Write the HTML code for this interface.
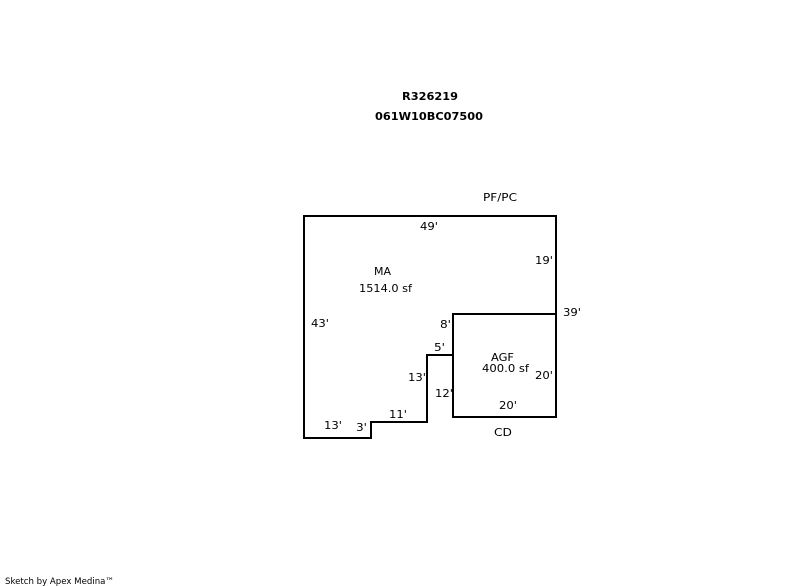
<!DOCTYPE html>
<html>
<head>
<meta charset="utf-8">
<style>
html,body{margin:0;padding:0;background:#fff;width:800px;height:587px;overflow:hidden}
svg{display:block}
text{font-family:"DejaVu Sans",sans-serif;font-size:11px;fill:#000}
.b{font-weight:bold;font-size:11px}
.s{font-size:9px}
</style>
</head>
<body>
<svg width="800" height="587" viewBox="0 0 800 587" xmlns="http://www.w3.org/2000/svg">
<g fill="none" stroke="#000" stroke-width="2" shape-rendering="crispEdges">
<path d="M303 216H557"/>
<path d="M556 215V418"/>
<path d="M452 417H557"/>
<path d="M453 313V418"/>
<path d="M453 314H556"/>
<path d="M304 215V439"/>
<path d="M303 438H372"/>
<path d="M371 421V439"/>
<path d="M370 422H428"/>
<path d="M427 354V423"/>
<path d="M426 355H453"/>
</g>
<text class="b" x="402" y="100" textLength="56" lengthAdjust="spacingAndGlyphs">R326219</text>
<text class="b" x="375" y="120" textLength="108" lengthAdjust="spacingAndGlyphs">061W10BC07500</text>
<text x="483" y="201" textLength="34" lengthAdjust="spacingAndGlyphs">PF/PC</text>
<text x="420" y="230" textLength="18" lengthAdjust="spacingAndGlyphs">49'</text>
<text x="535" y="264" textLength="18" lengthAdjust="spacingAndGlyphs">19'</text>
<text x="374" y="275" textLength="17" lengthAdjust="spacingAndGlyphs">MA</text>
<text x="359" y="292" textLength="53" lengthAdjust="spacingAndGlyphs">1514.0 sf</text>
<text x="563" y="316" textLength="18" lengthAdjust="spacingAndGlyphs">39'</text>
<text x="311" y="327" textLength="18" lengthAdjust="spacingAndGlyphs">43'</text>
<text x="440" y="328" textLength="11" lengthAdjust="spacingAndGlyphs">8'</text>
<text x="434" y="351" textLength="11" lengthAdjust="spacingAndGlyphs">5'</text>
<text x="491" y="361" textLength="23" lengthAdjust="spacingAndGlyphs">AGF</text>
<text x="482" y="372" textLength="47" lengthAdjust="spacingAndGlyphs">400.0 sf</text>
<text x="535" y="379" textLength="18" lengthAdjust="spacingAndGlyphs">20'</text>
<text x="408" y="381" textLength="18" lengthAdjust="spacingAndGlyphs">13'</text>
<text x="435" y="397" textLength="18" lengthAdjust="spacingAndGlyphs">12'</text>
<text x="499" y="409" textLength="18" lengthAdjust="spacingAndGlyphs">20'</text>
<text x="389" y="418" textLength="18" lengthAdjust="spacingAndGlyphs">11'</text>
<text x="324" y="429" textLength="18" lengthAdjust="spacingAndGlyphs">13'</text>
<text x="356" y="431" textLength="11" lengthAdjust="spacingAndGlyphs">3'</text>
<text x="494" y="436" textLength="18" lengthAdjust="spacingAndGlyphs">CD</text>
<text class="s" x="5" y="584" textLength="109" lengthAdjust="spacingAndGlyphs">Sketch by Apex Medina™</text>
</svg>
</body>
</html>
